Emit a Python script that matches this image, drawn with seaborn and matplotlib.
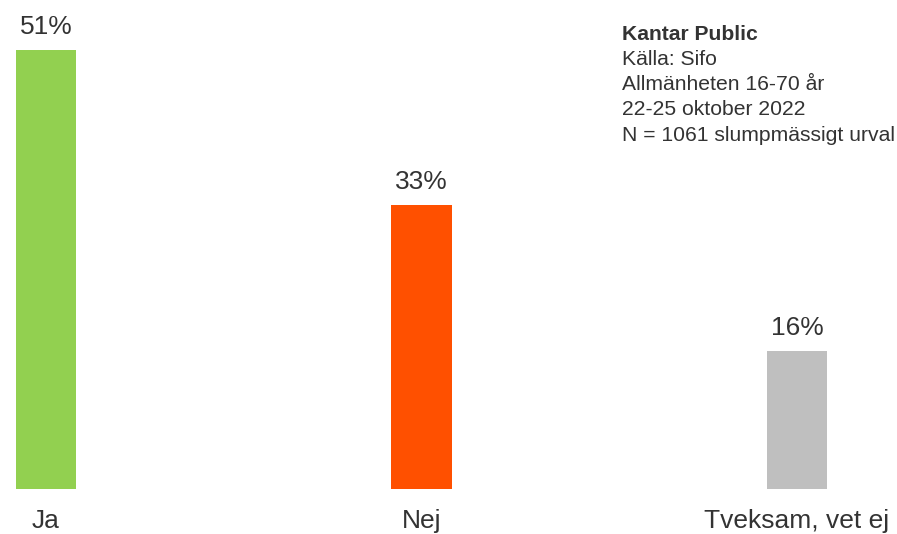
import pandas as pd
import seaborn as sns
import matplotlib.pyplot as plt

categories = ['Ja', 'Nej', 'Tveksam, vet ej']
values = [51, 33, 16]
colors = ['#92D050', '#FF5000', '#BFBFBF']

info_title = 'Kantar Public'
info_lines = ['Källa: Sifo', 'Allmänheten 16-70 år', '22-25 oktober 2022',
              'N = 1061 slumpmässigt urval']

sns.set_style('white')
plt.rcParams['font.family'] = ['Liberation Sans', 'DejaVu Sans']
text_color = '#333333'

df = pd.DataFrame({'kategori': categories, 'andel': values})

fig = plt.figure(figsize=(8.97, 5.34), dpi=100)
ax = fig.add_axes([0, 45 / 534, 1, 489 / 534])

sns.barplot(data=df, x='kategori', y='andel', hue='kategori', palette=colors,
            legend=False, width=0.162, saturation=1, linewidth=0, ax=ax)

for cont in ax.containers:
    ax.bar_label(cont, fmt='%d%%', padding=8, fontsize=19, color=text_color)

ax.set_xlim(-46 / 375.5, (897 - 46) / 375.5)
ax.set_ylim(0, 489 / 8.607)
ax.set_xlabel('')
ax.set_ylabel('')
ax.set_yticks([])
ax.tick_params(axis='x', length=0, pad=14.5, labelsize=19, colors=text_color)
sns.despine(ax=ax, left=True, bottom=True)

# informationsruta uppe till höger, en rad i taget
line_step = 25.25
fig.text(622 / 897, 1 - 34 / 534, info_title, fontsize=15.2, fontweight='bold',
         color=text_color, va='center', ha='left')
for i, line in enumerate(info_lines, start=1):
    fig.text(622 / 897, 1 - (34 + i * line_step) / 534, line, fontsize=15.2,
             color=text_color, va='center', ha='left')

fig.savefig('out.png', dpi=100)
